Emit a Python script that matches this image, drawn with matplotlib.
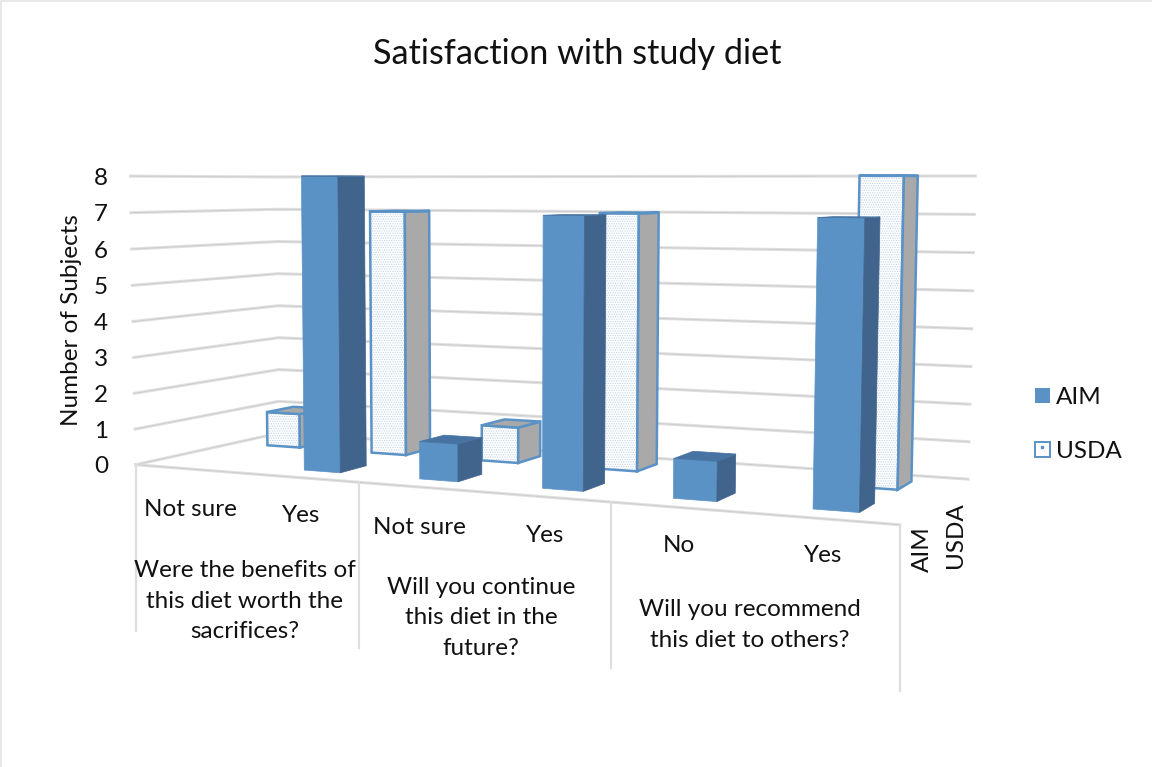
import numpy as np
import matplotlib
matplotlib.use('Agg')
import matplotlib.pyplot as plt
from matplotlib.patches import Polygon, Rectangle

plt.rcParams['font.family'] = ['Lato', 'DejaVu Sans']
plt.rcParams['hatch.linewidth'] = 0.6

# survey answers per question
answers = ['Not sure', 'Yes', 'Not sure', 'Yes', 'No', 'Yes']
questions = ['Were the benefits of\nthis diet worth the\nsacrifices?',
             'Will you continue\nthis diet in the\nfuture?',
             'Will you recommend\nthis diet to others?']
series_names = ['AIM', 'USDA']
aim_values = [0, 8, 1, 7, 1, 7]
usda_values = [1, 7, 1, 7, 0, 8]
y_ticks = [0, 1, 2, 3, 4, 5, 6, 7, 8]

BLUE = '#5b92c6'
BLUE_SIDE = '#41648c'
BLUE_TOP = '#4673a2'
GRID = '#e0e0e0'
GRID_DARK = '#cdcdcd'
GREY = '#a9a9a9'


def fit_camera():
    """Projection matrix from box coordinates (across, depth, value) to pixels."""
    pairs = [((0, 0, 0), (137, 464)), ((1 / 3, 0, 0), (359, 483)),
             ((2 / 3, 0, 0), (611, 503)), ((1, 0, 0), (900, 524)),
             ((0, 1, 0), (278, 433)), ((1, 1, 0), (968.5, 479)),
             ((0, 0, 8), (129, 176)), ((0, 1, 8), (278, 177)), ((1, 1, 8), (975, 176))]
    rows = []
    for (x, y, z), (u, v) in pairs:
        rows.append([x, y, z, 1, 0, 0, 0, 0, -u * x, -u * y, -u * z, -u])
        rows.append([0, 0, 0, 0, x, y, z, 1, -v * x, -v * y, -v * z, -v])
    return np.linalg.svd(np.array(rows))[2][-1].reshape(3, 4)


CAM = fit_camera()


def project(x, y, z):
    p = CAM @ np.array([x, y, z, 1.0])
    return p[0] / p[2], p[1] / p[2]


def draw_bar(ax, idx, value, d0, d1, solid):
    if value == 0:
        return
    width = 0.053
    x0 = (idx + 0.5) / 6 - width / 2 - 0.002
    x1 = x0 + width
    front = [project(x0, d0, 0), project(x1, d0, 0), project(x1, d0, value), project(x0, d0, value)]
    side = [project(x1, d0, 0), project(x1, d1, 0), project(x1, d1, value), project(x1, d0, value)]
    top = [project(x0, d0, value), project(x1, d0, value), project(x1, d1, value), project(x0, d1, value)]
    if solid:
        ax.add_patch(Polygon(front, fc=BLUE, ec=BLUE, lw=0.5, zorder=3))
        ax.add_patch(Polygon(side, fc=BLUE_SIDE, ec=BLUE_SIDE, lw=0.5, zorder=3))
        ax.add_patch(Polygon(top, fc=BLUE_TOP, ec=BLUE_TOP, lw=0.5, zorder=3))
    else:
        ax.add_patch(Polygon(front, fc='white', ec='#c3d5e8', hatch='.......', lw=0, zorder=3))
        ax.add_patch(Polygon(front, fill=False, ec=BLUE, lw=1.8, zorder=3))
        for face in (side, top):
            ax.add_patch(Polygon(face, fc=GREY, ec=BLUE, lw=1.8, zorder=3))


def grid_line(ax, pts, lw=2.2):
    xs = [p[0] for p in pts]
    ys = [p[1] for p in pts]
    ax.plot(xs, ys, color=GRID, lw=lw, zorder=1)
    ax.plot(xs, ys, color=GRID_DARK, lw=lw * 0.3, zorder=1)


fig = plt.figure(figsize=(11.52, 7.67), dpi=100)
ax = fig.add_axes([0, 0, 1, 1])
ax.set_xlim(0, 1152)
ax.set_ylim(767, 0)
ax.axis('off')

# chart frame
ax.plot([1, 1, 1151], [767, 1, 1], color='#e4e4e4', lw=1.2)

ax.text(577, 54, 'Satisfaction with study diet', fontsize=24.7, ha='center', va='center', color='#111111')

# side wall and back wall gridlines
for v in y_ticks:
    grid_line(ax, [project(0, 0, v), project(0, 1, v), project(1, 1, v)])
    ax.text(101, project(0, 0, v)[1] + 2, str(v), fontsize=17.5, ha='center', va='center', color='#111111')

# front floor edge
grid_line(ax, [project(0, 0, 0), project(1, 0, 0)])

# question dividers below the floor
for q in range(4):
    x, y = project(q / 3, 0, 0)
    ax.plot([x, x], [y, y + 166], color='#dedede', lw=1.6, zorder=1)

# back series first so that the front one covers it
for i, v in enumerate(usda_values):
    draw_bar(ax, i, v, 0.66, 0.86, False)
for i, v in enumerate(aim_values):
    draw_bar(ax, i, v, 0.16, 0.35, True)

ax.text(72, 320, 'Number of Subjects', fontsize=17.5, rotation=90, ha='center', va='center', color='#111111')

answer_pos = [(190, 509), (301, 515), (419, 527), (545, 535), (679, 545), (823, 556)]
for label, (x, y) in zip(answers, answer_pos):
    ax.text(x, y, label, fontsize=17.5, ha='center', va='center', color='#111111')

question_pos = [(245, 601), (481, 618), (750, 625)]
for label, (x, y) in zip(questions, question_pos):
    ax.text(x, y, label, fontsize=17.5, ha='center', va='center', color='#111111', linespacing=1.58)

# series names on the depth axis
ax.text(922, 549, series_names[0], fontsize=17.5, rotation=90, ha='center', va='center', color='#111111')
ax.text(955, 535, series_names[1], fontsize=17.5, rotation=90, ha='center', va='center', color='#111111')

# legend
ax.add_patch(Rectangle((1035, 388), 15, 15, fc=BLUE, ec='none'))
ax.text(1056, 398, series_names[0], fontsize=17.5, va='center', color='#111111')
ax.add_patch(Rectangle((1035, 442), 15, 15, fc='white', ec=BLUE, lw=1.4))
ax.plot([1041.5], [447], marker='s', ms=1.5, color=BLUE)
ax.text(1056, 452, series_names[1], fontsize=17.5, va='center', color='#111111')

fig.savefig('out.png', dpi=100)
